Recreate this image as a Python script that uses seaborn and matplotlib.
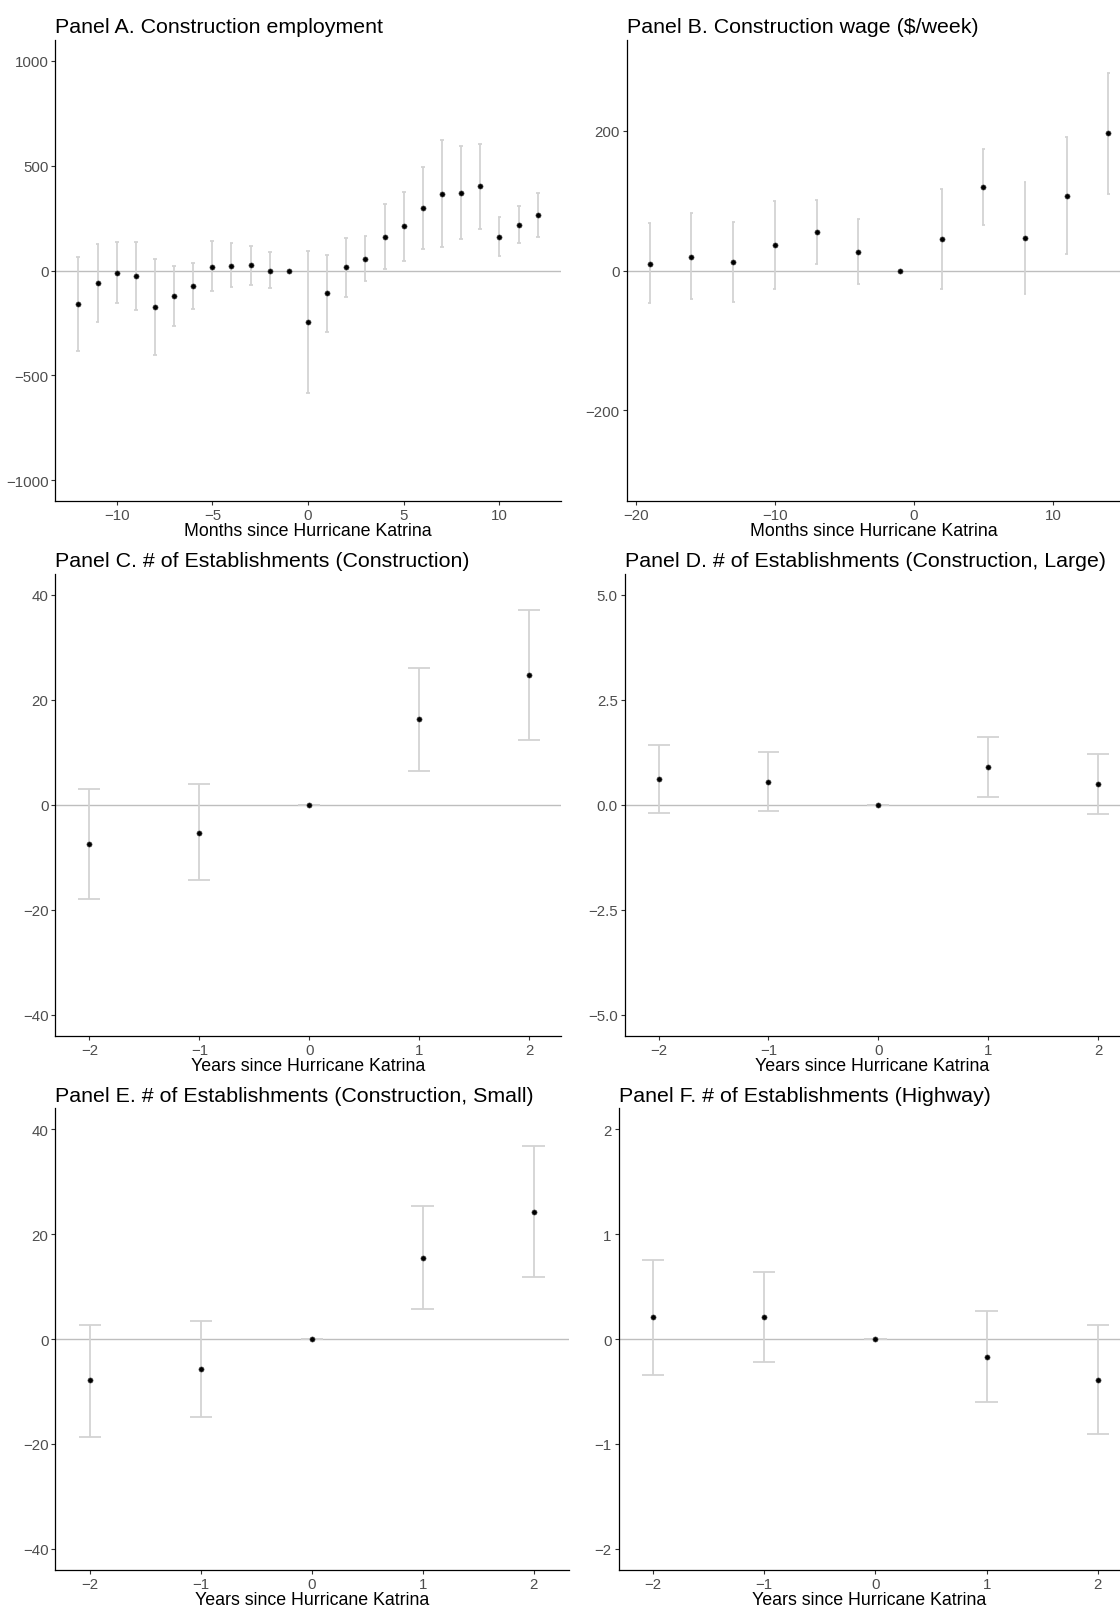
import numpy as np
import pandas as pd
import matplotlib
matplotlib.use('Agg')
import matplotlib.pyplot as plt
import seaborn as sns

sns.set_theme(style='ticks')
plt.rcParams['font.family'] = ['Liberation Sans', 'DejaVu Sans']

# ---- data ----
months_a = list(range(-12, 13))
est_a = [-160, -60, -11, -28, -174, -123, -76, 19, 22, 24, 0, 0,
         -245, -108, 16, 57, 162, 210, 297, 365, 371, 402, 160, 217, 263]
lo_a = [-385, -244, -153, -190, -403, -264, -184, -100, -81, -71, -85, 0,
        -582, -293, -125, -51, 8, 44, 102, 111, 151, 198, 70, 129, 159]
hi_a = [66, 125, 137, 138, 57, 21, 35, 140, 129, 119, 87, 0,
        92, 76, 156, 163, 317, 376, 492, 621, 594, 605, 254, 306, 368]

months_b = [-19, -16, -13, -10, -7, -4, -1, 2, 5, 8, 11, 14]
est_b = [10, 20, 12, 37, 55, 27, 0, 45, 119, 47, 107, 196]
lo_b = [-47, -41, -45, -26, 9, -20, 0, -27, 65, -33, 24, 110]
hi_b = [68, 82, 69, 100, 101, 74, 0, 117, 174, 127, 191, 282]

years = [-2, -1, 0, 1, 2]
est_c = [-7.4, -5.3, 0, 16.3, 24.7]
lo_c = [-17.9, -14.4, 0, 6.5, 12.3]
hi_c = [3.1, 3.9, 0, 26.1, 37.1]

est_d = [0.62, 0.55, 0, 0.90, 0.49]
lo_d = [-0.19, -0.14, 0, 0.19, -0.23]
hi_d = [1.43, 1.26, 0, 1.62, 1.20]

est_e = [-7.9, -5.7, 0, 15.5, 24.3]
lo_e = [-18.6, -14.8, 0, 5.7, 11.8]
hi_e = [2.6, 3.4, 0, 25.3, 36.9]

est_f = [0.21, 0.21, 0, -0.17, -0.39]
lo_f = [-0.34, -0.22, 0, -0.60, -0.91]
hi_f = [0.75, 0.64, 0, 0.27, 0.13]

W, H = 1120, 1606
fig = plt.figure(figsize=(W / 100, H / 100), dpi=100)


def make_ax(left, right, top, bottom):
    return fig.add_axes([left / W, 1 - bottom / H, (right - left) / W, (bottom - top) / H])


def panel(ax, x, est, lo, hi, title, xlabel, xlim, ylim, yticks, xticks, yfmt=None):
    df = pd.DataFrame({'t': x, 'est': est, 'lo': lo, 'hi': hi})
    ax.axhline(0, color='#BEBEBE', lw=1.0, zorder=1)
    ax.vlines(df['t'], df['lo'], df['hi'], color='#D3D3D3', lw=1.3, zorder=2)
    ax.hlines(df['lo'], df['t'] - 0.1, df['t'] + 0.1, color='#D3D3D3', lw=1.3, zorder=2)
    ax.hlines(df['hi'], df['t'] - 0.1, df['t'] + 0.1, color='#D3D3D3', lw=1.3, zorder=2)
    sns.scatterplot(data=df, x='t', y='est', ax=ax, color='black', s=14,
                    edgecolor='#555555', linewidth=0.4, zorder=3, legend=False)
    ax.set_xlim(*xlim)
    ax.set_ylim(*ylim)
    ax.set_xticks(xticks)
    ax.set_yticks(yticks)
    if yfmt:
        ax.set_yticklabels([yfmt.format(v).replace('-', '\u2212') for v in yticks])
    ax.set_title(title, loc='left', fontsize=15.4, color='black', pad=5.5)
    ax.set_xlabel(xlabel, fontsize=12.8, color='black', labelpad=0)
    ax.set_ylabel('')
    ax.tick_params(axis='both', length=3, width=0.8, color='#333333',
                   labelcolor='#4D4D4D', labelsize=10.8, pad=2)
    for s in ['top', 'right']:
        ax.spines[s].set_visible(False)
    for s in ['left', 'bottom']:
        ax.spines[s].set_color('black')
        ax.spines[s].set_linewidth(0.9)
    ax.set_facecolor('white')


m_lab = 'Months since Hurricane Katrina'
y_lab = 'Years since Hurricane Katrina'

ax = make_ax(55.4, 560.7, 40.7, 502.3)
panel(ax, months_a, est_a, lo_a, hi_a, 'Panel A. Construction employment', m_lab,
      (-13.2, 13.2), (-1100, 1100), [-1000, -500, 0, 500, 1000], [-10, -5, 0, 5, 10])

ax = make_ax(626.8, 1120, 40.7, 502.3)
panel(ax, months_b, est_b, lo_b, hi_b, 'Panel B. Construction wage ($/week)', m_lab,
      (-20.65, 14.83), (-330, 330), [-200, 0, 200], [-20, -10, 0, 10])

ax = make_ax(55.4, 561, 575, 1036.6)
panel(ax, years, est_c, lo_c, hi_c, 'Panel C. # of Establishments (Construction)', y_lab,
      (-2.31, 2.29), (-44, 44), [-40, -20, 0, 20, 40], years)

ax = make_ax(624.6, 1120, 575, 1036.6)
panel(ax, years, est_d, lo_d, hi_d, 'Panel D. # of Establishments (Construction, Large)', y_lab,
      (-2.31, 2.2), (-5.5, 5.5), [-5.0, -2.5, 0.0, 2.5, 5.0], years, yfmt='{:.1f}')

ax = make_ax(55.4, 569, 1109.3, 1570.7)
panel(ax, years, est_e, lo_e, hi_e, 'Panel E. # of Establishments (Construction, Small)', y_lab,
      (-2.31, 2.32), (-44, 44), [-40, -20, 0, 20, 40], years)

ax = make_ax(618.6, 1120, 1109.3, 1570.7)
panel(ax, years, est_f, lo_f, hi_f, 'Panel F. # of Establishments (Highway)', y_lab,
      (-2.31, 2.2), (-2.2, 2.2), [-2, -1, 0, 1, 2], years)

fig.savefig('out.png', dpi=100, facecolor='white')
